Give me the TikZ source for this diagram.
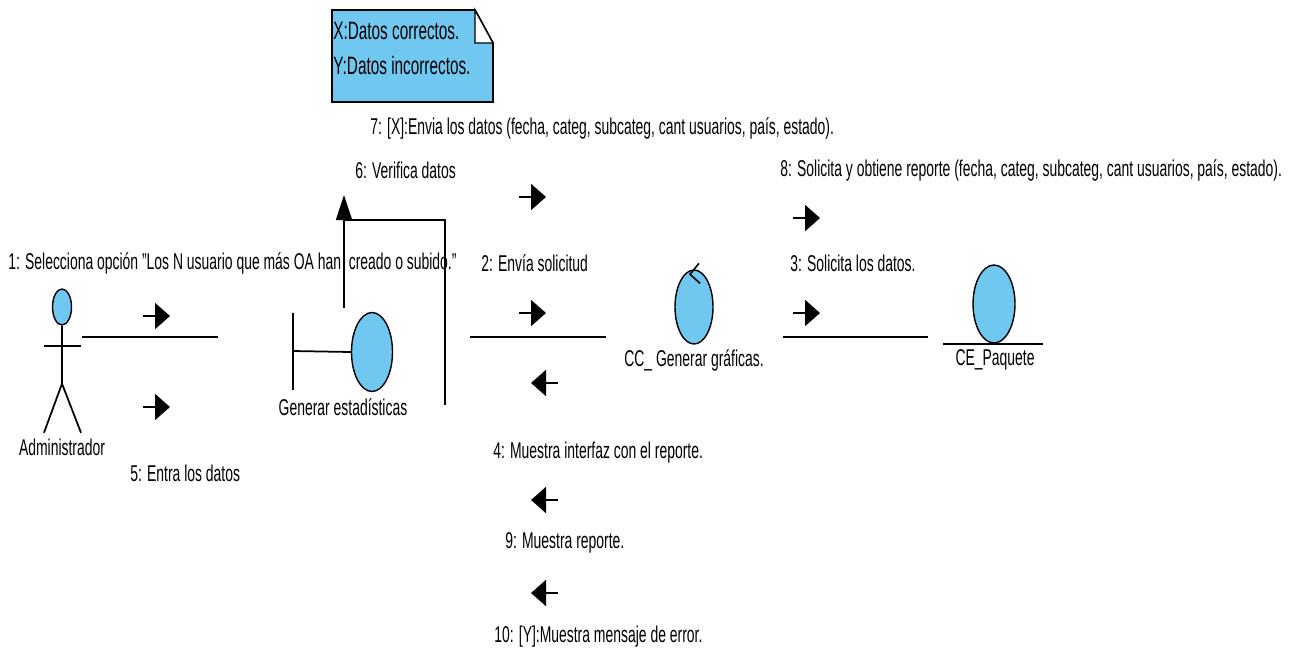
\documentclass[tikz,border=0pt]{standalone}
\usepackage{fontspec}
\setmainfont{Liberation Sans}[FakeStretch=0.61]
\usetikzlibrary{arrows.meta,positioning,calc,shapes.geometric}
\definecolor{vpblue}{RGB}{112,199,240}
\tikzset{
  obj/.style={draw, ellipse, fill=vpblue, inner sep=0pt, line width=0.8pt},
  lbl/.style={font=\fontsize{13}{15}\selectfont, inner sep=0pt},
  lnk/.style={line width=1pt},
  msg/.style={line width=1.2pt, -{Triangle[length=3mm, width=5.2mm]}},
  selfmsg/.style={line width=1pt, -{Triangle[length=5mm, width=3.2mm]}}
}

\begin{document}
\begin{tikzpicture}[x=0.02cm, y=-0.02cm]
  \useasboundingbox (0,0) rectangle (1293,650);
  % note
  \filldraw[fill=vpblue, lnk] (332,10) -- (475,10) -- (493,43) -- (493,102) -- (332,102) -- cycle;
  \filldraw[fill=white, line width=0.8pt] (475,10) -- (475,43) -- (493,43) -- cycle;
  \node[lbl, align=left, anchor=north west, font=\fontsize{14.3}{20}\selectfont] (nota) at (333,22) {X:Datos correctos.\\Y:Datos incorrectos.};
  % actor
  \node[obj, minimum width=0.38cm, minimum height=0.72cm] (adm) at (62,307) {};
  \coordinate (hip) at ($(adm.south)+(0,58)$);
  \draw[lnk] (adm.south) -- (hip);
  \draw[lnk] (44,346) -- (81,346);
  \draw[lnk] (hip) -- ++(-18,49);
  \draw[lnk] (hip) -- ++(19,49);
  \node[lbl] (admname) at (62,447) {Administrador};
  % boundary
  \node[obj, minimum width=0.82cm, minimum height=1.58cm] (gen) at (372,352) {};
  \draw[lnk] (293,313) -- (293,390);
  \draw[lnk] (293,351) -- (gen.west);
  \node[lbl] (genname) at (343,407) {Generar estadísticas};
  % control
  \node[obj, minimum width=0.76cm, minimum height=1.48cm] (cc) at (694,307) {};
  \draw[line width=0.9pt] ([shift={(5,-6)}]cc.north) -- ([shift={(-4,5)}]cc.north) -- ([shift={(6,14)}]cc.north);
  \node[lbl] (ccname) at (694,360) {CC\_ Generar gráficas.};
  % entity
  \node[obj, minimum width=0.84cm, minimum height=1.56cm] (ce) at (994,304) {};
  \draw[lnk] ([xshift=-1.02cm]ce.south) -- ([xshift=0.98cm]ce.south);
  \node[lbl] (cename) at (995,360) {CE\_Paquete};
  % links
  \coordinate (l1a) at (82,337);  \coordinate (l1b) at (218,337);
  \coordinate (l2a) at (470,337); \coordinate (l2b) at (606,337);
  \coordinate (l3a) at (783,337); \coordinate (l3b) at (928,337);
  \draw[lnk] (l1a) -- (l1b);
  \draw[lnk] (l2a) -- (l2b);
  \draw[lnk] (l3a) -- (l3b);
  % self link on boundary
  \coordinate (vs) at (344,308); \coordinate (vt) at (344,195);
  \coordinate (vc) at (344,220); \coordinate (ve) at (445,405);
  \draw[lnk] (ve) |- (vc);
  \draw[selfmsg] (vs) -- (vt);
  % messages
  \foreach \x/\y in {143/316, 143/407, 519/197, 519/313, 793/218, 793/313}
    \draw[msg] (\x,\y) -- ++(27,0);
  \foreach \y in {383, 500, 593}
    \draw[msg] (558,\y) -- ++(-27,0);
  % message labels
  \node[lbl, anchor=west] (m1) at (8,263) {1: Selecciona opción "Los N usuario que más OA han\ \ creado o subido."};
  \node[lbl, anchor=west] (m5) at (130,473) {5: Entra los datos};
  \node[lbl, anchor=west] (m6) at (355,170) {6: Verifica datos};
  \node[lbl, anchor=west] (m7) at (370,128) {7: [X]:Envia los datos (fecha, categ, subcateg, cant usuarios, país, estado).};
  \node[lbl, anchor=west] (m2) at (481,263) {2: Envía solicitud};
  \node[lbl, anchor=west] (m8) at (780,170) {8: Solicita y obtiene reporte (fecha, categ, subcateg, cant usuarios, país, estado).};
  \node[lbl, anchor=west] (m3) at (790,263) {3: Solicita los datos.};
  \node[lbl, anchor=west] (m4) at (493,453) {4: Muestra interfaz con el reporte.};
  \node[lbl, anchor=west] (m9) at (505,543) {9: Muestra reporte.};
  \node[lbl, anchor=west] (m10) at (494,637) {10: [Y]:Muestra mensaje de error.};
\end{tikzpicture}
\end{document}
